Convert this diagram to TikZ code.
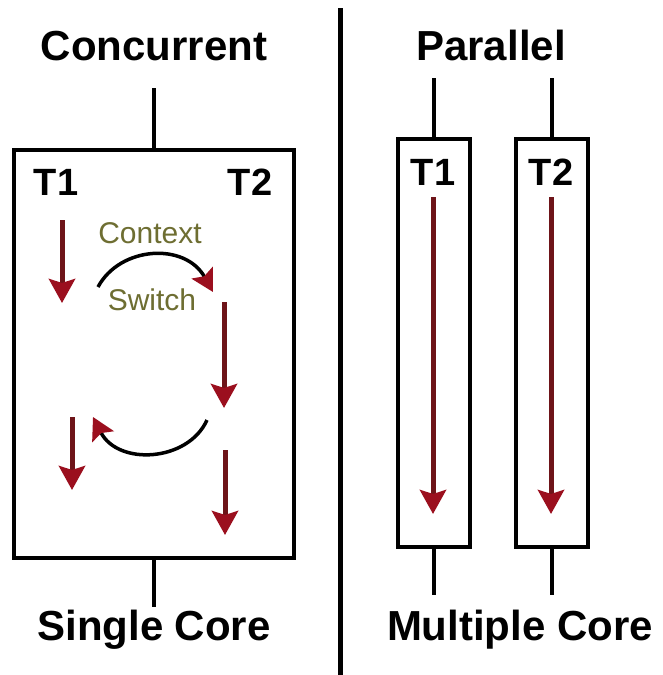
\documentclass[tikz,border=0pt]{standalone}
\usepackage{fontspec}
\setmainfont{Liberation Sans}
\usetikzlibrary{arrows.meta}
\definecolor{shaftred}{RGB}{110,20,25}
\definecolor{headred}{RGB}{155,15,30}
\definecolor{olive}{RGB}{110,110,50}
\tikzset{
  title/.style={anchor=base, inner sep=0pt, font=\fontsize{42}{50}\selectfont\bfseries},
  tlabel/.style={anchor=base, inner sep=0pt, font=\fontsize{38}{44}\selectfont\bfseries},
  switchtext/.style={anchor=base, inner sep=0pt, text=olive, font=\fontsize{30}{34}\selectfont},
  corebox/.style={draw, line width=4pt, minimum height=408pt, inner sep=0pt},
  thread/.style={-{Stealth[length=24pt, width=26pt, inset=4pt, color=headred]}, line width=5pt, draw=shaftred},
  switcharc/.style={-{Stealth[length=22pt, width=24pt, inset=4pt, color=headred]}, line width=3.5pt}
}

\begin{document}
\begin{tikzpicture}[x=1pt, y=-1pt, >=Stealth]
  \useasboundingbox[fill=white] (0,0) rectangle (662,675);

  \node[title] (concurrent) at (154,60) {Concurrent};
  \node[title] (parallel) at (491,60) {Parallel};
  \node[title] (single) at (154,640) {Single Core};
  \node[title] (multiple) at (520,640) {Multiple Core};

  \node[corebox, minimum width=280pt] (lbox) at (154,354) {};
  \node[corebox, minimum width=72pt] (rbox1) at (434,343) {};
  \node[corebox, minimum width=72pt] (rbox2) at (552,343) {};

  \coordinate (ltop) at (154,88);
  \coordinate (lbot) at (154,607);
  \coordinate (r1top) at (434,78);
  \coordinate (r1bot) at (434,595);
  \coordinate (r2top) at (552,78);
  \coordinate (r2bot) at (552,595);
  \draw[line width=4pt] (ltop) -- (lbox.north);
  \draw[line width=4pt] (lbox.south) -- (lbot);
  \draw[line width=4pt] (r1top) -- (rbox1.north);
  \draw[line width=4pt] (rbox1.south) -- (r1bot);
  \draw[line width=4pt] (r2top) -- (rbox2.north);
  \draw[line width=4pt] (rbox2.south) -- (r2bot);

  \draw[line width=5pt] (340,8) -- (340,675);

  \node[tlabel] (lt1) at (56,195) {T1};
  \node[tlabel] (lt2) at (250,195) {T2};
  \node[tlabel] (rt1) at (433,185) {T1};
  \node[tlabel] (rt2) at (551,185) {T2};

  \node[switchtext] (context) at (150,243) {Context};
  \node[switchtext] (switch) at (152,310) {Switch};

  \draw[thread] (62,220) -- (62,303);
  \draw[thread] (224,302) -- (224,408);
  \draw[thread] (72,417) -- (72,490);
  \draw[thread] (225,450) -- (225,535);
  \draw[switcharc] (98,287) .. controls (120,246) and (185,242) .. (213,292);
  \draw[switcharc] (207,420) .. controls (188,462) and (118,466) .. (93,417);

  \draw[thread] (433,197) -- (433,514);
  \draw[thread] (551,197) -- (551,514);
\end{tikzpicture}
\end{document}
